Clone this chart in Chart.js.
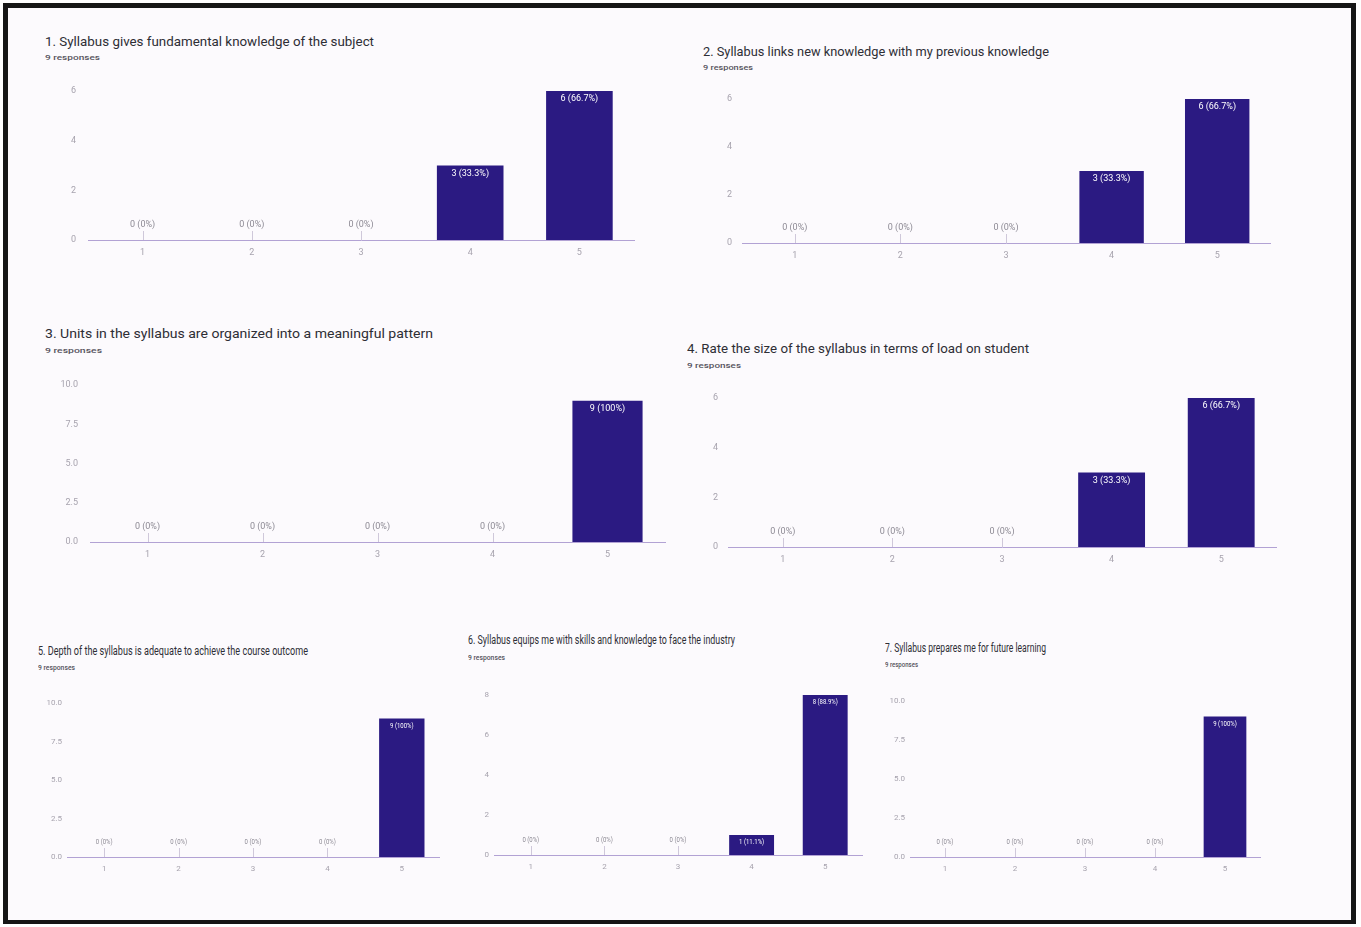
<!DOCTYPE html>
<html><head><meta charset="utf-8">
<script src="https://cdn.jsdelivr.net/npm/chart.js@4.4.0/dist/chart.umd.min.js"></script>
<style>
body{margin:0;width:1361px;height:927px;background:#fff;position:relative;overflow:hidden;font-family:Roboto,sans-serif;}
#frame{position:absolute;left:3px;top:3px;width:1343px;height:912px;border:5px solid #161616;border-bottom-width:4px;background:#fcfafd;}
.t{position:absolute;white-space:nowrap;transform-origin:0 50%;color:#2e2e35;line-height:1;}
.r{position:absolute;white-space:nowrap;transform-origin:0 50%;color:#55525c;line-height:1;font-weight:500;}
canvas{position:absolute;}
</style></head><body>
<div id="frame"></div>
<script>
// ---- data ----
const categories = ['1', '2', '3', '4', '5'];
const titles = [
  '1. Syllabus gives fundamental knowledge of the subject',
  '2. Syllabus links new knowledge with my previous knowledge',
  '3. Units in the syllabus are organized into a meaningful pattern',
  '4. Rate the size of the syllabus in terms of load on student',
  '5. Depth of the syllabus is adequate to achieve the course outcome',
  '6. Syllabus equips me with skills and knowledge to face the industry',
  '7. Syllabus prepares me for future learning'
];
const responseCounts = ['9 responses', '9 responses', '9 responses', '9 responses', '9 responses', '9 responses', '9 responses'];
const q1Values = [0, 0, 0, 3, 6];
const q2Values = [0, 0, 0, 3, 6];
const q3Values = [0, 0, 0, 0, 9];
const q4Values = [0, 0, 0, 3, 6];
const q5Values = [0, 0, 0, 0, 9];
const q6Values = [0, 0, 0, 1, 8];
const q7Values = [0, 0, 0, 0, 9];
const yMax = [6, 6, 10, 6, 10, 8, 10];
const yStep = [2, 2, 2.5, 2, 2.5, 2, 2.5];
const yDecimals = [0, 0, 1, 0, 1, 0, 1];
const totalResponses = 9;
const allValues = [q1Values, q2Values, q3Values, q4Values, q5Values, q6Values, q7Values];

// ---- layout (positions / styles only) ----
const geo = [
  {l:88,  r:634,  t:91,  b:240, yPad:12, fs:9,   lfs:9,   cond:1,    tx:45,  ty:41,  tw:329, tfs:13, rx:45,  ry:58,  rw:55},
  {l:742, r:1270, t:99,  b:243, yPad:10, fs:9,   lfs:9,   cond:1,    tx:703, ty:51,  tw:346, tfs:13, rx:703, ry:68,  rw:50},
  {l:90,  r:665,  t:385, b:542, yPad:12, fs:9,   lfs:9,   cond:1,    tx:45,  ty:333, tw:388, tfs:13, rx:45,  ry:351, rw:57},
  {l:728, r:1276, t:398, b:547, yPad:10, fs:9,   lfs:9,   cond:1,    tx:687, ty:348, tw:342, tfs:13, rx:687, ry:366, rw:54},
  {l:67,  r:439,  t:703, b:857, yPad:5,  fs:8,   lfs:8,   cond:0.75, tx:38,  ty:651, tw:270, tfs:12, rx:38,  ry:668, rw:37},
  {l:494, r:862,  t:695, b:855, yPad:5,  fs:8,   lfs:8,   cond:0.75, tx:468, ty:640, tw:267, tfs:12, rx:468, ry:658, rw:37},
  {l:910, r:1260, t:701, b:857, yPad:5,  fs:8,   lfs:8,   cond:0.75, tx:885, ty:648, tw:161, tfs:12, rx:885, ry:665, rw:33}
];
const barColor = '#2b1a82';
const axisColor = '#b2a2d4';
const tickColor = '#a7a3ae';
const zeroLblColor = '#8d8a94';

function pctText(v) {
  const p = Math.round(v / totalResponses * 1000) / 10;
  return v + ' (' + (Number.isInteger(p) ? p.toFixed(0) : p.toFixed(1)) + '%)';
}

const labelPlugin = {
  id: 'valueLabels',
  afterDatasetsDraw(chart, args, opts) {
    const ctx = chart.ctx;
    const meta = chart.getDatasetMeta(0);
    const vals = chart.data.datasets[0].data;
    const base = chart.scales.y.getPixelForValue(0);
    ctx.save();
    meta.data.forEach((bar, i) => {
      const v = vals[i];
      const txt = pctText(v);
      let y;
      ctx.save();
      if (v > 0) {
        ctx.fillStyle = '#ffffff';
        y = bar.y + opts.lfs * 0.9;
      } else {
        ctx.fillStyle = zeroLblColor;
        y = base - 15;
        ctx.strokeStyle = '#cfc8da';
        ctx.lineWidth = 1;
        ctx.beginPath();
        ctx.moveTo(Math.round(bar.x) + 0.5, base - 9);
        ctx.lineTo(Math.round(bar.x) + 0.5, base);
        ctx.stroke();
      }
      ctx.font = opts.lfs + 'px Roboto, sans-serif';
      ctx.textAlign = 'center';
      ctx.textBaseline = 'middle';
      ctx.translate(bar.x, y);
      ctx.scale(opts.cond, 1);
      ctx.fillText(txt, 0, 0);
      ctx.restore();
    });
    ctx.restore();
  }
};

function addText(cls, txt, x, yc, size, targetW) {
  const s = document.createElement('div');
  s.className = cls;
  s.textContent = txt;
  s.style.fontSize = size + 'px';
  s.style.left = x + 'px';
  s.style.top = (yc - size / 2) + 'px';
  document.body.appendChild(s);
  const w = s.getBoundingClientRect().width;
  if (w > 0) s.style.transform = 'scaleX(' + (targetW / w) + ')';
}

const padL = 45, padT = 22, padR = 16, padB = 26;
geo.forEach((g, k) => {
  addText('t', titles[k], g.tx, g.ty, g.tfs, g.tw);
  addText('r', responseCounts[k], g.rx, g.ry, k < 4 ? 8 : 7, g.rw);
  const c = document.createElement('canvas');
  const W = g.r - g.l + padL + padR, H = g.b - g.t + padT + padB;
  c.width = W; c.height = H;
  c.style.left = (g.l - padL) + 'px';
  c.style.top = (g.t - padT) + 'px';
  c.style.width = W + 'px'; c.style.height = H + 'px';
  document.body.appendChild(c);
  new Chart(c, {
    type: 'bar',
    data: {
      labels: categories,
      datasets: [{ data: allValues[k], backgroundColor: barColor, borderWidth: 0,
        barPercentage: 0.61, categoryPercentage: 1 }]
    },
    options: {
      responsive: false, animation: false, devicePixelRatio: 1,
      layout: { padding: { top: padT, right: padR, left: 0, bottom: 0 } },
      plugins: { legend: { display: false }, tooltip: { enabled: false },
        valueLabels: { lfs: g.lfs, cond: g.cond } },
      scales: {
        x: {
          grid: { display: false, drawTicks: false },
          border: { color: axisColor, width: 1 },
          ticks: { color: tickColor, font: { size: g.fs, family: 'Roboto' }, padding: 7, maxRotation: 0 },
          afterFit: s => { s.height = padB; }
        },
        y: {
          min: 0, max: yMax[k],
          grid: { display: false, drawTicks: false },
          border: { display: false },
          ticks: { stepSize: yStep[k], color: tickColor, font: { size: g.fs, family: 'Roboto' }, padding: g.yPad,
            callback: v => Number(v).toFixed(yDecimals[k]) },
          afterFit: s => { s.width = padL; }
        }
      }
    },
    plugins: [labelPlugin]
  });
});
</script>
</body></html>
